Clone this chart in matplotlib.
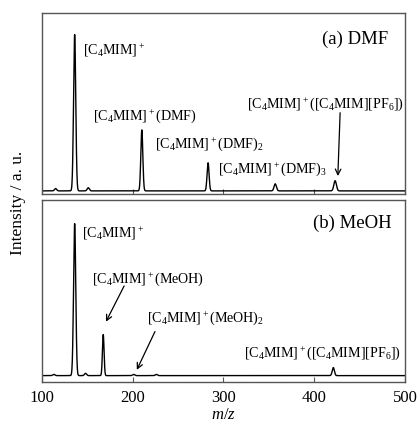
import numpy as np
import matplotlib
matplotlib.use("Agg")
import matplotlib.pyplot as plt

plt.rcParams['font.family'] = ['Liberation Serif']
plt.rcParams['mathtext.fontset'] = 'custom'
plt.rcParams['mathtext.rm'] = 'Liberation Serif'
plt.rcParams['mathtext.it'] = 'Liberation Serif:italic'

# peak tables: position (m/z), height (a.u., main peak = 100), width (sigma)
dmf_pos = [115, 136, 151, 210, 283, 357, 423]
dmf_height = [1.5, 100, 2.0, 39, 18, 4.5, 6.5]
dmf_width = [1.2, 1.2, 1.2, 1.1, 1.1, 1.3, 1.4]

meoh_pos = [113, 136, 148, 167.5, 201, 226, 421]
meoh_height = [0.8, 100, 1.5, 27, 0.8, 0.8, 5.3]
meoh_width = [1.2, 1.2, 1.2, 0.9, 1.2, 1.2, 1.2]

mz = np.linspace(100, 500, 4001)


def spectrum(pos, height, width):
	s = np.zeros_like(mz)
	for p, h, w in zip(pos, height, width):
		s += h * np.exp(-0.5 * ((mz - p) / w) ** 2)
	return s


ion = r'[C$_4$MIM]$^+$'

fig = plt.figure(figsize=(4.19, 4.28), dpi=100)
ax1 = fig.add_axes([0.1002, 0.5467, 0.8664, 0.4236])
ax2 = fig.add_axes([0.1002, 0.1082, 0.8664, 0.4245])

ax1.plot(mz, spectrum(dmf_pos, dmf_height, dmf_width), color='black', lw=1.0)
ax2.plot(mz, spectrum(meoh_pos, meoh_height, meoh_width), color='black', lw=1.0)

ax1.set_ylim(-2, 114)
ax2.set_ylim(-4, 115.6)

for ax in (ax1, ax2):
	ax.set_xlim(100, 500)
	ax.set_xticks([100, 200, 300, 400, 500])
	ax.set_yticks([])
	ax.tick_params(axis='x', direction='in', length=3.5, width=0.8, color='#555555', labelsize=12, pad=6)
	for sp in ax.spines.values():
		sp.set_color('#555555')
		sp.set_linewidth(1.0)

ax1.tick_params(axis='x', labelbottom=False)
ax2.set_xlabel(r'$m/z$', fontsize=12, labelpad=1)
fig.text(0.043, 0.526, 'Intensity / a. u.', rotation=90, fontsize=12.5, ha='center', va='center')

fs = 10.1
# (a) DMF
ax1.text(481, 97, '(a) DMF', fontsize=13.5, ha='right', va='center')
ax1.text(145.5, 87, ion, fontsize=fs, ha='left', va='baseline')
ax1.text(156.5, 45.5, ion + '(DMF)', fontsize=fs, ha='left', va='baseline')
ax1.text(224.5, 27.5, ion + '(DMF)$_2$', fontsize=fs, ha='left', va='baseline')
ax1.text(294, 11.5, ion + '(DMF)$_3$', fontsize=fs, ha='left', va='baseline')
ax1.text(325.5, 53, ion + '([C$_4$MIM][PF$_6$])', fontsize=fs, ha='left', va='baseline')
ax1.annotate('', xy=(426, 9.5), xytext=(428.5, 50),
	arrowprops=dict(arrowstyle='->', color='black', lw=0.9, shrinkA=0, shrinkB=0))

# (b) MeOH
ax2.text(485, 100, '(b) MeOH', fontsize=13.5, ha='right', va='center')
ax2.text(144, 91, ion, fontsize=fs, ha='left', va='baseline')
ax2.text(155.5, 61, ion + '(MeOH)', fontsize=fs, ha='left', va='baseline')
ax2.text(215.5, 35.5, ion + '(MeOH)$_2$', fontsize=fs, ha='left', va='baseline')
ax2.text(322.5, 12.5, ion + '([C$_4$MIM][PF$_6$])', fontsize=fs, ha='left', va='baseline')
ax2.annotate('', xy=(170.5, 35.5), xytext=(190.5, 59),
	arrowprops=dict(arrowstyle='->', color='black', lw=0.9, shrinkA=0, shrinkB=0))
ax2.annotate('', xy=(204.5, 3.8), xytext=(224.5, 29),
	arrowprops=dict(arrowstyle='->', color='black', lw=0.9, shrinkA=0, shrinkB=0))

fig.savefig('out.png', dpi=100)
